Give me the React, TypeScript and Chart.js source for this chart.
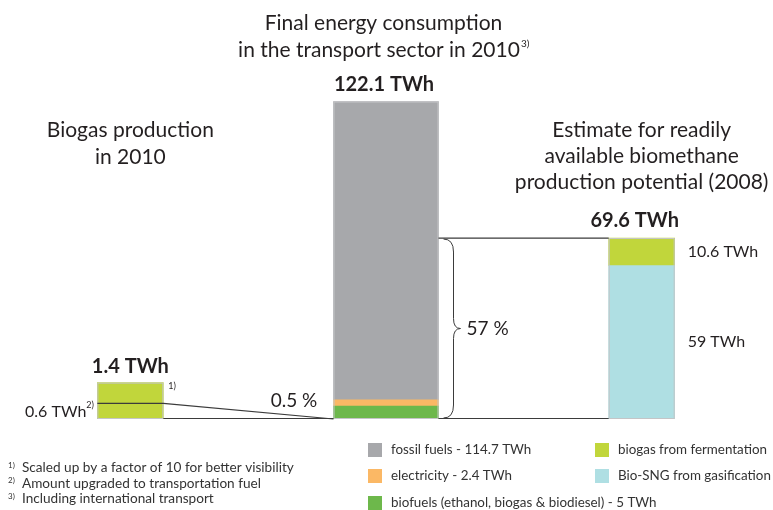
import React, { useEffect, useRef } from "react";
import { Chart, registerables } from "chart.js";
Chart.register(...registerables);

// ---- data ----
const categories = ["Biogas production 2010", "Transport sector 2010", "Biomethane potential 2008"];
const biofuels = [null, 5, null];
const electricity = [null, 2.4, null];
const fossilFuels = [null, 114.7, null];
const bioSNG = [null, null, 59];
const biogasFermentation = [14, null, 10.6]; // first bar: 1.4 TWh scaled up by 10
const upgradedBiogasScaled = 6; // 0.6 TWh scaled up by 10
const potentialTotal = 69.6;
const totalLabels = ["1.4 TWh", "122.1 TWh", "69.6 TWh"];
const legendLabels = [
  "fossil fuels - 114.7 TWh",
  "electricity - 2.4 TWh",
  "biofuels (ethanol, biogas & biodiesel) - 5 TWh",
  "biogas from fermentation",
  "Bio-SNG from gasification",
];
const footnotes = [
  "Scaled up by a factor of 10 for better visibility",
  "Amount upgraded to transportation fuel",
  "Including international transport",
];

const C_FOSSIL = "#a7a8ab";
const C_ELEC = "#fbb865";
const C_BIOFUEL = "#6db84b";
const C_BIOGAS = "#c1d63b";
const C_SNG = "#afdfe3";
const TXT = "#231f20";
const FONT = "Lato";

const annotations = {
  id: "annotations",
  afterDatasetsDraw(chart: any) {
    const ctx: CanvasRenderingContext2D = chart.ctx;
    const ys = chart.scales.y;
    const base = ys.getPixelForValue(0);
    const el = (d: number, i: number) => chart.getDatasetMeta(d).data[i] as any;
    const b1 = el(4, 0);
    const b2 = el(2, 1);
    const b3 = el(4, 2);
    const b1L = b1.x - b1.width / 2, b1R = b1.x + b1.width / 2;
    const b2L = b2.x - b2.width / 2, b2R = b2.x + b2.width / 2;
    const b3L = b3.x - b3.width / 2, b3R = b3.x + b3.width / 2;
    const yUp = ys.getPixelForValue(upgradedBiogasScaled);
    const yPot = ys.getPixelForValue(potentialTotal);

    ctx.save();
    // outlines
    ctx.strokeStyle = "#c4c5c7";
    ctx.lineWidth = 1;
    ctx.strokeRect(b1L + 0.5, b1.y + 0.5, b1.width - 1, base - b1.y - 1);
    ctx.strokeRect(b2L + 0.5, b2.y + 0.5, b2.width - 1, base - b2.y - 1);
    ctx.strokeRect(b3L + 0.5, b3.y + 0.5, b3.width - 1, base - b3.y - 1);

    // connector lines
    ctx.strokeStyle = "#3b3b3b";
    ctx.lineWidth = 1.2;
    ctx.beginPath();
    ctx.moveTo(b1L, yUp);
    ctx.lineTo(b1R, yUp);
    ctx.lineTo(b2L, base);
    ctx.moveTo(b1R, base - 0.5);
    ctx.lineTo(b2L, base - 0.5);
    ctx.moveTo(b2R, base - 0.5);
    ctx.lineTo(b3L, base - 0.5);
    ctx.moveTo(b2R, yPot);
    ctx.lineTo(b3L, yPot);
    ctx.stroke();

    // brace
    const x0 = b2R + 5;
    const xv = x0 + 10;
    const xt = x0 + 17;
    const mid = (yPot + base) / 2;
    ctx.lineWidth = 1;
    ctx.beginPath();
    ctx.moveTo(x0, yPot + 1);
    ctx.quadraticCurveTo(xv, yPot + 1, xv, yPot + 14);
    ctx.lineTo(xv, mid - 10);
    ctx.quadraticCurveTo(xv, mid, xt, mid);
    ctx.quadraticCurveTo(xv, mid, xv, mid + 10);
    ctx.lineTo(xv, base - 14);
    ctx.quadraticCurveTo(xv, base - 1, x0, base - 1);
    ctx.stroke();

    ctx.fillStyle = TXT;
    ctx.textBaseline = "middle";
    const text = (s: string, x: number, y: number, size: number, align: CanvasTextAlign = "left", weight = "normal") => {
      ctx.font = `${weight} ${size}px ${FONT}`;
      ctx.textAlign = align;
      ctx.fillText(s, x, y);
      return ctx.measureText(s).width;
    };

    // titles
    text("Final energy consumption", 383.5, 23, 21, "center");
    ctx.font = `21px ${FONT}`;
    const t2 = "in the transport sector in 2010";
    const w2 = ctx.measureText(t2).width;
    text(t2, 379, 50, 21, "center");
    text("3)", 379 + w2 / 2 + 1, 44, 10, "left");

    text("Biogas production", b1.x, 130, 21, "center");
    text("in 2010", b1.x, 157, 21, "center");

    text("Estimate for readily", b3.x, 130, 21, "center");
    text("available biomethane", b3.x, 156, 21, "center");
    text("production potential (2008)", b3.x, 182, 21, "center");

    // totals
    text(totalLabels[0], b1.x, b1.y - 16, 20, "center", "bold");
    text(totalLabels[1], b2.x - 2, b2.y - 17, 20, "center", "bold");
    text(totalLabels[2], b3.x - 7, b3.y - 17, 20, "center", "bold");

    // bar side labels
    text("1)", b1R + 5, b1.y + 3, 9, "left");
    text("0.6 TWh", b1L - 11, yUp + 8, 16, "right");
    text("2)", b1L - 11, yUp + 2, 9, "left");
    text("0.5 %", 294, base - 18, 19, "center");
    text("57 %", xt + 6, mid, 19, "left");
    text("10.6 TWh", b3R + 13, ys.getPixelForValue(64.3), 16, "left");
    text("59 TWh", b3R + 13, ys.getPixelForValue(29.5), 16, "left");

    // legend
    const legendColors = [C_FOSSIL, C_ELEC, C_BIOFUEL, C_BIOGAS, C_SNG];
    const pos = [
      [368, 450], [368, 476], [368, 503], [595, 450], [595, 476],
    ];
    legendLabels.forEach((lab, i) => {
      const [lx, ly] = pos[i];
      ctx.fillStyle = legendColors[i];
      ctx.fillRect(lx, ly - 7, 14, 14);
      ctx.fillStyle = "#333";
      text(lab, lx + 23, ly, 13.4, "left");
    });

    // footnotes
    ctx.fillStyle = "#333";
    footnotes.forEach((f, i) => {
      const fy = 468 + i * 15.5;
      text(`${i + 1})`, 8, fy - 3, 8, "left");
      text(f, 22, fy, 13.6, "left");
    });
    ctx.restore();
  },
};

export default function App() {
  const ref = useRef<HTMLCanvasElement>(null);
  useEffect(() => {
    document.body.style.margin = "0";
    const chart = new Chart(ref.current!, {
      type: "bar",
      data: {
        labels: categories,
        datasets: [
          { label: legendLabels[2], data: biofuels, backgroundColor: C_BIOFUEL, barThickness: 105 },
          { label: legendLabels[1], data: electricity, backgroundColor: C_ELEC, barThickness: 105 },
          { label: legendLabels[0], data: fossilFuels, backgroundColor: C_FOSSIL, barThickness: 105 },
          { label: legendLabels[4], data: bioSNG, backgroundColor: C_SNG, barThickness: 66 },
          { label: legendLabels[3], data: biogasFermentation, backgroundColor: C_BIOGAS, barThickness: 66 },
        ] as any,
      },
      options: {
        responsive: false,
        animation: false,
        layout: { padding: { top: 81, bottom: 91, left: 2.5, right: 3.5 } },
        plugins: { legend: { display: false }, tooltip: { enabled: false } },
        scales: {
          x: { stacked: true, display: false, offset: true, grid: { display: false } },
          y: { stacked: true, display: false, min: 0, max: 130 },
        },
      },
      plugins: [annotations],
    });
    return () => chart.destroy();
  }, []);
  return <canvas ref={ref} width={773} height={510} style={{ display: "block" }} />;
}
